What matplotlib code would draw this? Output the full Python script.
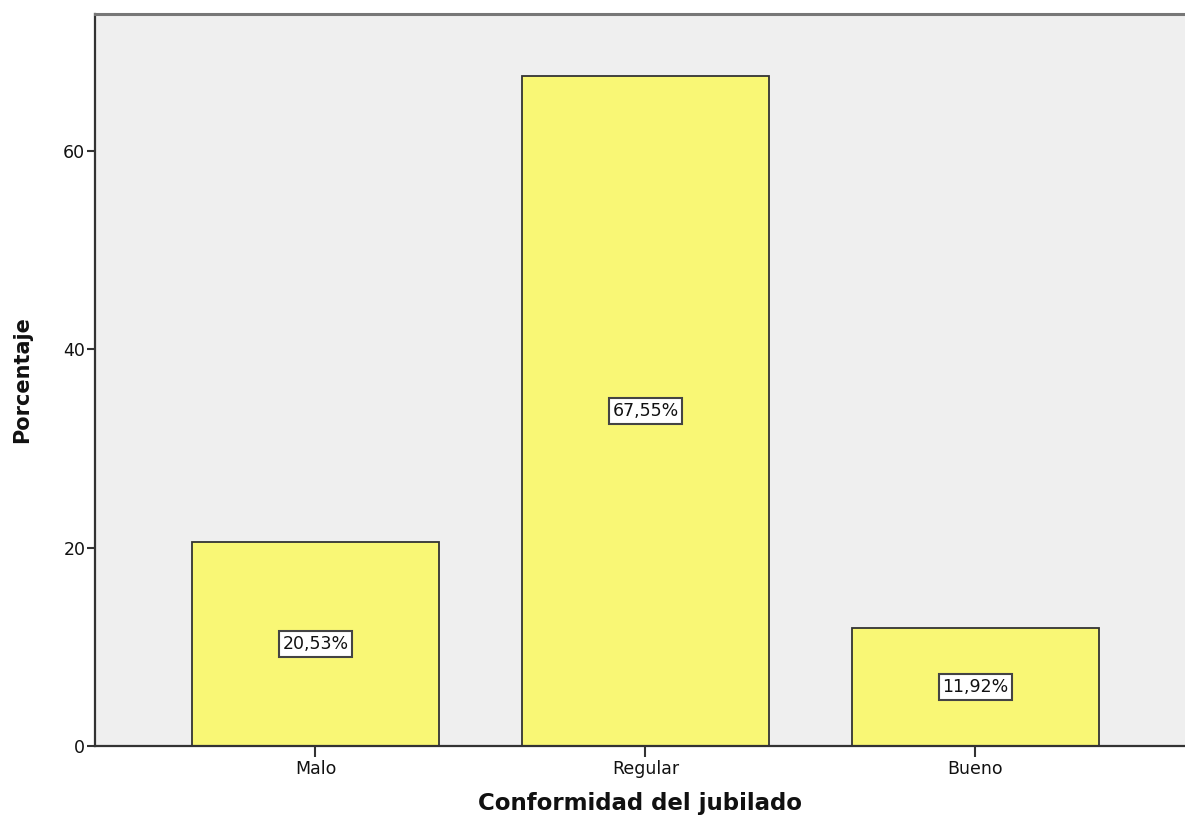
import matplotlib.pyplot as plt
import numpy as np

plt.rcParams['font.family'] = ['DejaVu Sans']

categorias = ['Malo', 'Regular', 'Bueno']
porcentajes = [20.53, 67.55, 11.92]
etiquetas = ['20,53%', '67,55%', '11,92%']
yticks = [0, 20, 40, 60]

fig = plt.figure(figsize=(11.85, 8.23), dpi=100)
ax = fig.add_axes([95/1185, 77/823, 1 - 95/1185, (746 - 14)/823])
ax.set_facecolor('#efefef')

x = np.arange(len(categorias))
ax.bar(x, porcentajes, width=0.75, color='#f9f775', edgecolor='#333333', linewidth=1.3, zorder=2)

# etiqueta con el porcentaje en el centro de cada barra
for xi, v, lab in zip(x, porcentajes, etiquetas):
    ax.text(xi, v / 2, lab, ha='center', va='center', fontsize=12.5, color='#111111', zorder=3,
            bbox=dict(boxstyle='square,pad=0.22', facecolor='white', edgecolor='#444444', linewidth=1.5))

ax.set_xlim(-0.668, 2.635)
ax.set_ylim(0, 73.8)
ax.set_xticks(x)
ax.set_xticklabels(categorias, fontsize=12.5, color='#111111')
ax.set_yticks(yticks)
ax.set_yticklabels([str(t) for t in yticks], fontsize=12.5, color='#111111')
ax.tick_params(axis='x', length=8, width=1.5, color='#333333', pad=2)
ax.tick_params(axis='y', length=6, width=1.5, color='#333333', pad=1)

ax.spines['right'].set_visible(False)
for s in ['left', 'bottom']:
    ax.spines[s].set_color('#333333')
    ax.spines[s].set_linewidth(1.6)
ax.spines['top'].set_color('#777777')
ax.spines['top'].set_linewidth(2.2)

ax.set_xlabel('Conformidad del jubilado', fontsize=16.5, fontweight='bold', labelpad=10, color='#111111')
ax.set_ylabel('Porcentaje', fontsize=15, fontweight='bold', labelpad=22, color='#111111')

fig.savefig('out.png', dpi=100)
